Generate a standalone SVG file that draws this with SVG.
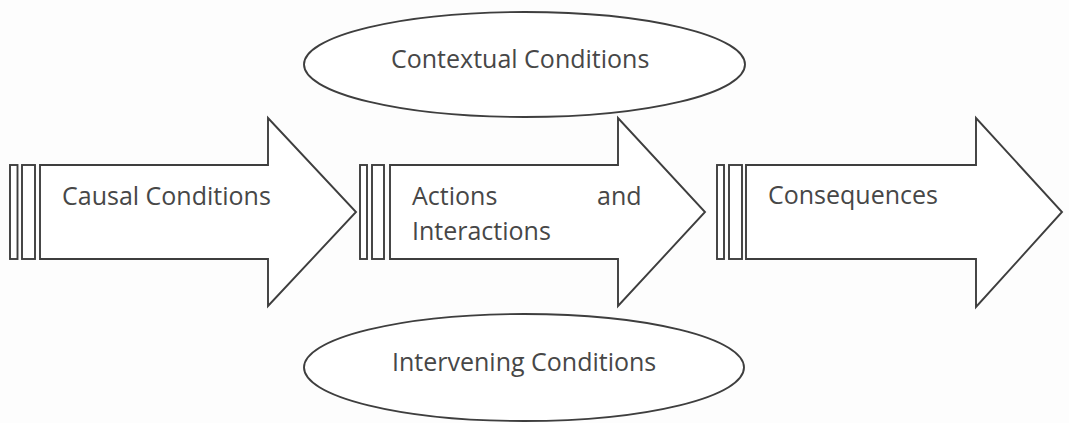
<svg xmlns="http://www.w3.org/2000/svg" width="1069" height="423" viewBox="0 0 1069 423">
  <style>
    .shape { fill: #ffffff; stroke: #3e3e3e; stroke-width: 1.9; stroke-linejoin: miter; }
    .label { font-family: "Open Sans", "Liberation Sans", sans-serif; font-size: 25px; fill: #474747; }
  </style>
  <rect width="1069" height="423" fill="#fdfdfd"/>

  <!-- Context ellipse above the flow -->
  <g id="contextual-conditions">
    <ellipse class="shape" cx="524.5" cy="64.5" rx="220.5" ry="52.5"/>
    <text class="label" x="391" y="68">Contextual Conditions</text>
  </g>

  <!-- Block arrow 1 -->
  <g id="causal-conditions">
    <rect class="shape" x="10" y="165" width="7.5" height="94"/>
    <rect class="shape" x="22" y="165" width="13" height="94"/>
    <polygon class="shape" points="40,165 268,165 268,118 356,212 268,306 268,259 40,259"/>
    <text class="label" x="62" y="205">Causal Conditions</text>
  </g>

  <!-- Block arrow 2 -->
  <g id="actions-interactions">
    <rect class="shape" x="360" y="165" width="7" height="94"/>
    <rect class="shape" x="372" y="165" width="12" height="94"/>
    <polygon class="shape" points="390,165 618,165 618,118 705,212 618,306 618,259 390,259"/>
    <text class="label" x="412" y="205">Actions</text>
    <text class="label" x="597" y="205">and</text>
    <text class="label" x="412" y="240">Interactions</text>
  </g>

  <!-- Block arrow 3 -->
  <g id="consequences">
    <rect class="shape" x="717" y="165" width="7" height="94"/>
    <rect class="shape" x="729" y="165" width="13" height="94"/>
    <polygon class="shape" points="746,165 976,165 976,118 1062,212 976,307 976,259 746,259"/>
    <text class="label" x="768" y="204">Consequences</text>
  </g>

  <!-- Intervening ellipse below the flow -->
  <g id="intervening-conditions">
    <ellipse class="shape" cx="524" cy="367.5" rx="220" ry="53.5"/>
    <text class="label" x="392" y="371">Intervening Conditions</text>
  </g>

  <g id="connectors"/>
</svg>
